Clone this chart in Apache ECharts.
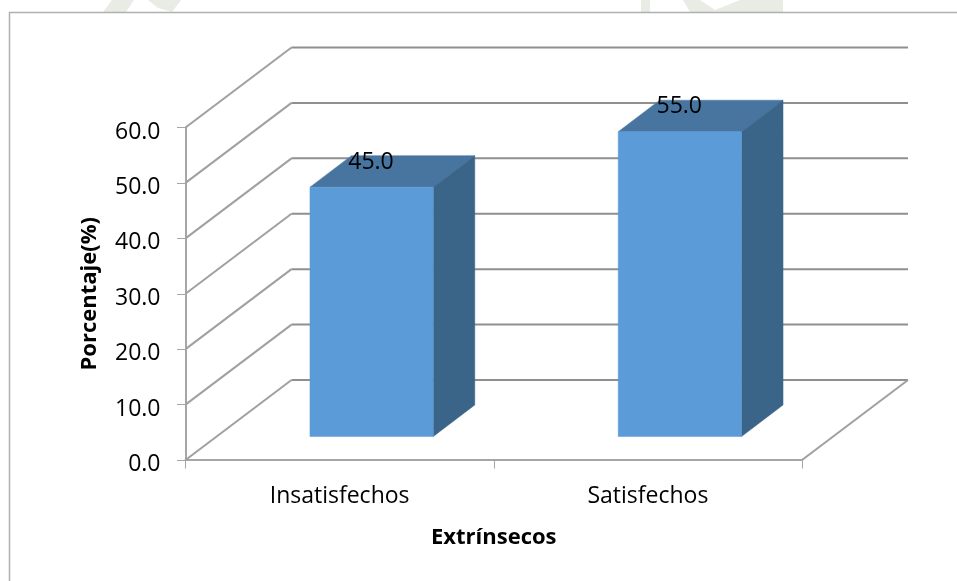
<!DOCTYPE html>
<html><head><meta charset="utf-8">
<style>html,body{margin:0;padding:0;background:#fff}#c{width:957px;height:581px}</style>
<script src="https://cdn.jsdelivr.net/npm/echarts@6/dist/echarts.min.js"></script>
</head><body><div id="c"></div>
<script>
const categories = ['Insatisfechos', 'Satisfechos'];
const values = [45.0, 55.0];
const yTicks = [0, 10, 20, 30, 40, 50, 60];

const wallDx = 106, wallDy = 80;     // depth of the floor
const barGapDx = 31, barGapDy = 23.5; // front face of bars, behind the axis
const barDx = 41.5, barDy = 31.5;    // bar depth
const barShare = 0.4;
const font = '"Open Sans"';

const wash = pts => ({type: 'polygon', silent: true, z: 0, shape: {points: pts}, style: {fill: '#e9ece5'}});

const chart = echarts.init(document.getElementById('c'), null, {renderer: 'canvas'});
chart.setOption({
  animation: false,
  backgroundColor: '#fff',
  grid: {left: 185.5, right: 155, top: 127.5, bottom: 121, containLabel: false},
  graphic: [
    wash([[103, 12], [112, 0], [134, 0], [126, 12]]),
    wash([[148, 0], [181, 0], [172, 12], [158, 8]]),
    wash([[641, 0], [650, 0], [650, 12], [641, 12]]),
    wash([[683, 0], [700, 0], [715, 10], [740, 0], [783, 0], [783, 12], [690, 12]]),
    {type: 'polyline', silent: true, z: 1, shape: {points: [[9.5, 581], [9.5, 12.5], [957, 12.5]]},
     style: {stroke: '#b0b0b0', lineWidth: 1.5, fill: null}}
  ],
  xAxis: {
    type: 'category', data: categories, name: 'Extrínsecos', nameLocation: 'middle', nameGap: 67,
    nameTextStyle: {fontFamily: font, fontWeight: 'bold', fontSize: 22, color: '#000'},
    axisLine: {lineStyle: {color: '#a6a6a6', width: 2}},
    axisTick: {show: true, length: 8.5, alignWithLabel: false, lineStyle: {color: '#a6a6a6', width: 1}},
    axisLabel: {fontFamily: font, fontSize: 23, color: '#000', margin: 25},
    splitLine: {show: false}
  },
  yAxis: {
    type: 'value', min: 0, max: 60, interval: 10, name: 'Porcentaje(%)', nameLocation: 'middle', nameGap: 85,
    nameTextStyle: {fontFamily: font, fontWeight: 'bold', fontSize: 22, color: '#000'},
    axisLine: {show: true, lineStyle: {color: '#a6a6a6', width: 2}},
    axisTick: {show: true, length: 8.5, lineStyle: {color: '#a6a6a6', width: 1}},
    axisLabel: {fontFamily: font, fontSize: 23, color: '#000', margin: 25, verticalAlign: 'top', lineHeight: 9, formatter: v => v.toFixed(1)},
    splitLine: {show: false}
  },
  series: [
    {
      type: 'custom', coordinateSystem: 'cartesian2d', z: 2, silent: true,
      data: yTicks.map(v => [0, v]),
      renderItem(params, api) {
        const p = api.coord([categories[0], api.value(1)]);
        const band = api.size([1, 0])[0];
        const x0 = p[0] - band / 2, y = p[1];
        const x1 = x0 + band * categories.length;
        const v = api.value(1);
        const pts = [[x0, y], [x0 + wallDx, y - wallDy], [x1 + wallDx, y - wallDy]];
        if (v === 0) pts.push([x1, y]);
        const children = [
          {type: 'polyline', shape: {points: pts.slice(0, 2)}, style: {stroke: '#a0a0a0', lineWidth: 2, fill: null}},
          {type: 'polyline', shape: {points: pts.slice(1, 3)}, style: {stroke: '#8f8f8f', lineWidth: 2, fill: null}}
        ];
        if (v === 0) children.push({type: 'polyline', shape: {points: pts.slice(2)}, style: {stroke: '#a0a0a0', lineWidth: 2, fill: null}});
        return {type: 'group', children};
      }
    },
    {
      type: 'custom', coordinateSystem: 'cartesian2d', z: 3, silent: true,
      data: values.map((v, i) => [categories[i], v]),
      renderItem(params, api) {
        const top = api.coord([api.value(0), api.value(1)]);
        const base = api.coord([api.value(0), 0]);
        const band = api.size([1, 0])[0];
        const w = band * barShare;
        const xl = top[0] - w / 2 + barGapDx + 1, xr = xl + w;
        const yt = top[1] - barGapDy, yb = base[1] - barGapDy;
        const poly = (points, fill) => ({type: 'polygon', shape: {points}, style: {fill, stroke: fill, lineWidth: 0.5}});
        return {type: 'group', children: [
          poly([[xl, yt], [xr, yt], [xr + barDx, yt - barDy], [xl + barDx, yt - barDy]], '#4775a0'),
          poly([[xr, yt], [xr + barDx, yt - barDy], [xr + barDx, yb - barDy], [xr, yb]], '#3a6488'),
          poly([[xl, yt], [xr, yt], [xr, yb], [xl, yb]], '#5b9bd7'),
          {type: 'text', z2: 10, style: {
            text: api.value(1).toFixed(1), x: xl + 61, y: yt - 25, align: 'center', verticalAlign: 'middle',
            font: '23px "Open Sans"', fill: '#000'}}
        ]};
      }
    }
  ]
});
</script></body></html>
